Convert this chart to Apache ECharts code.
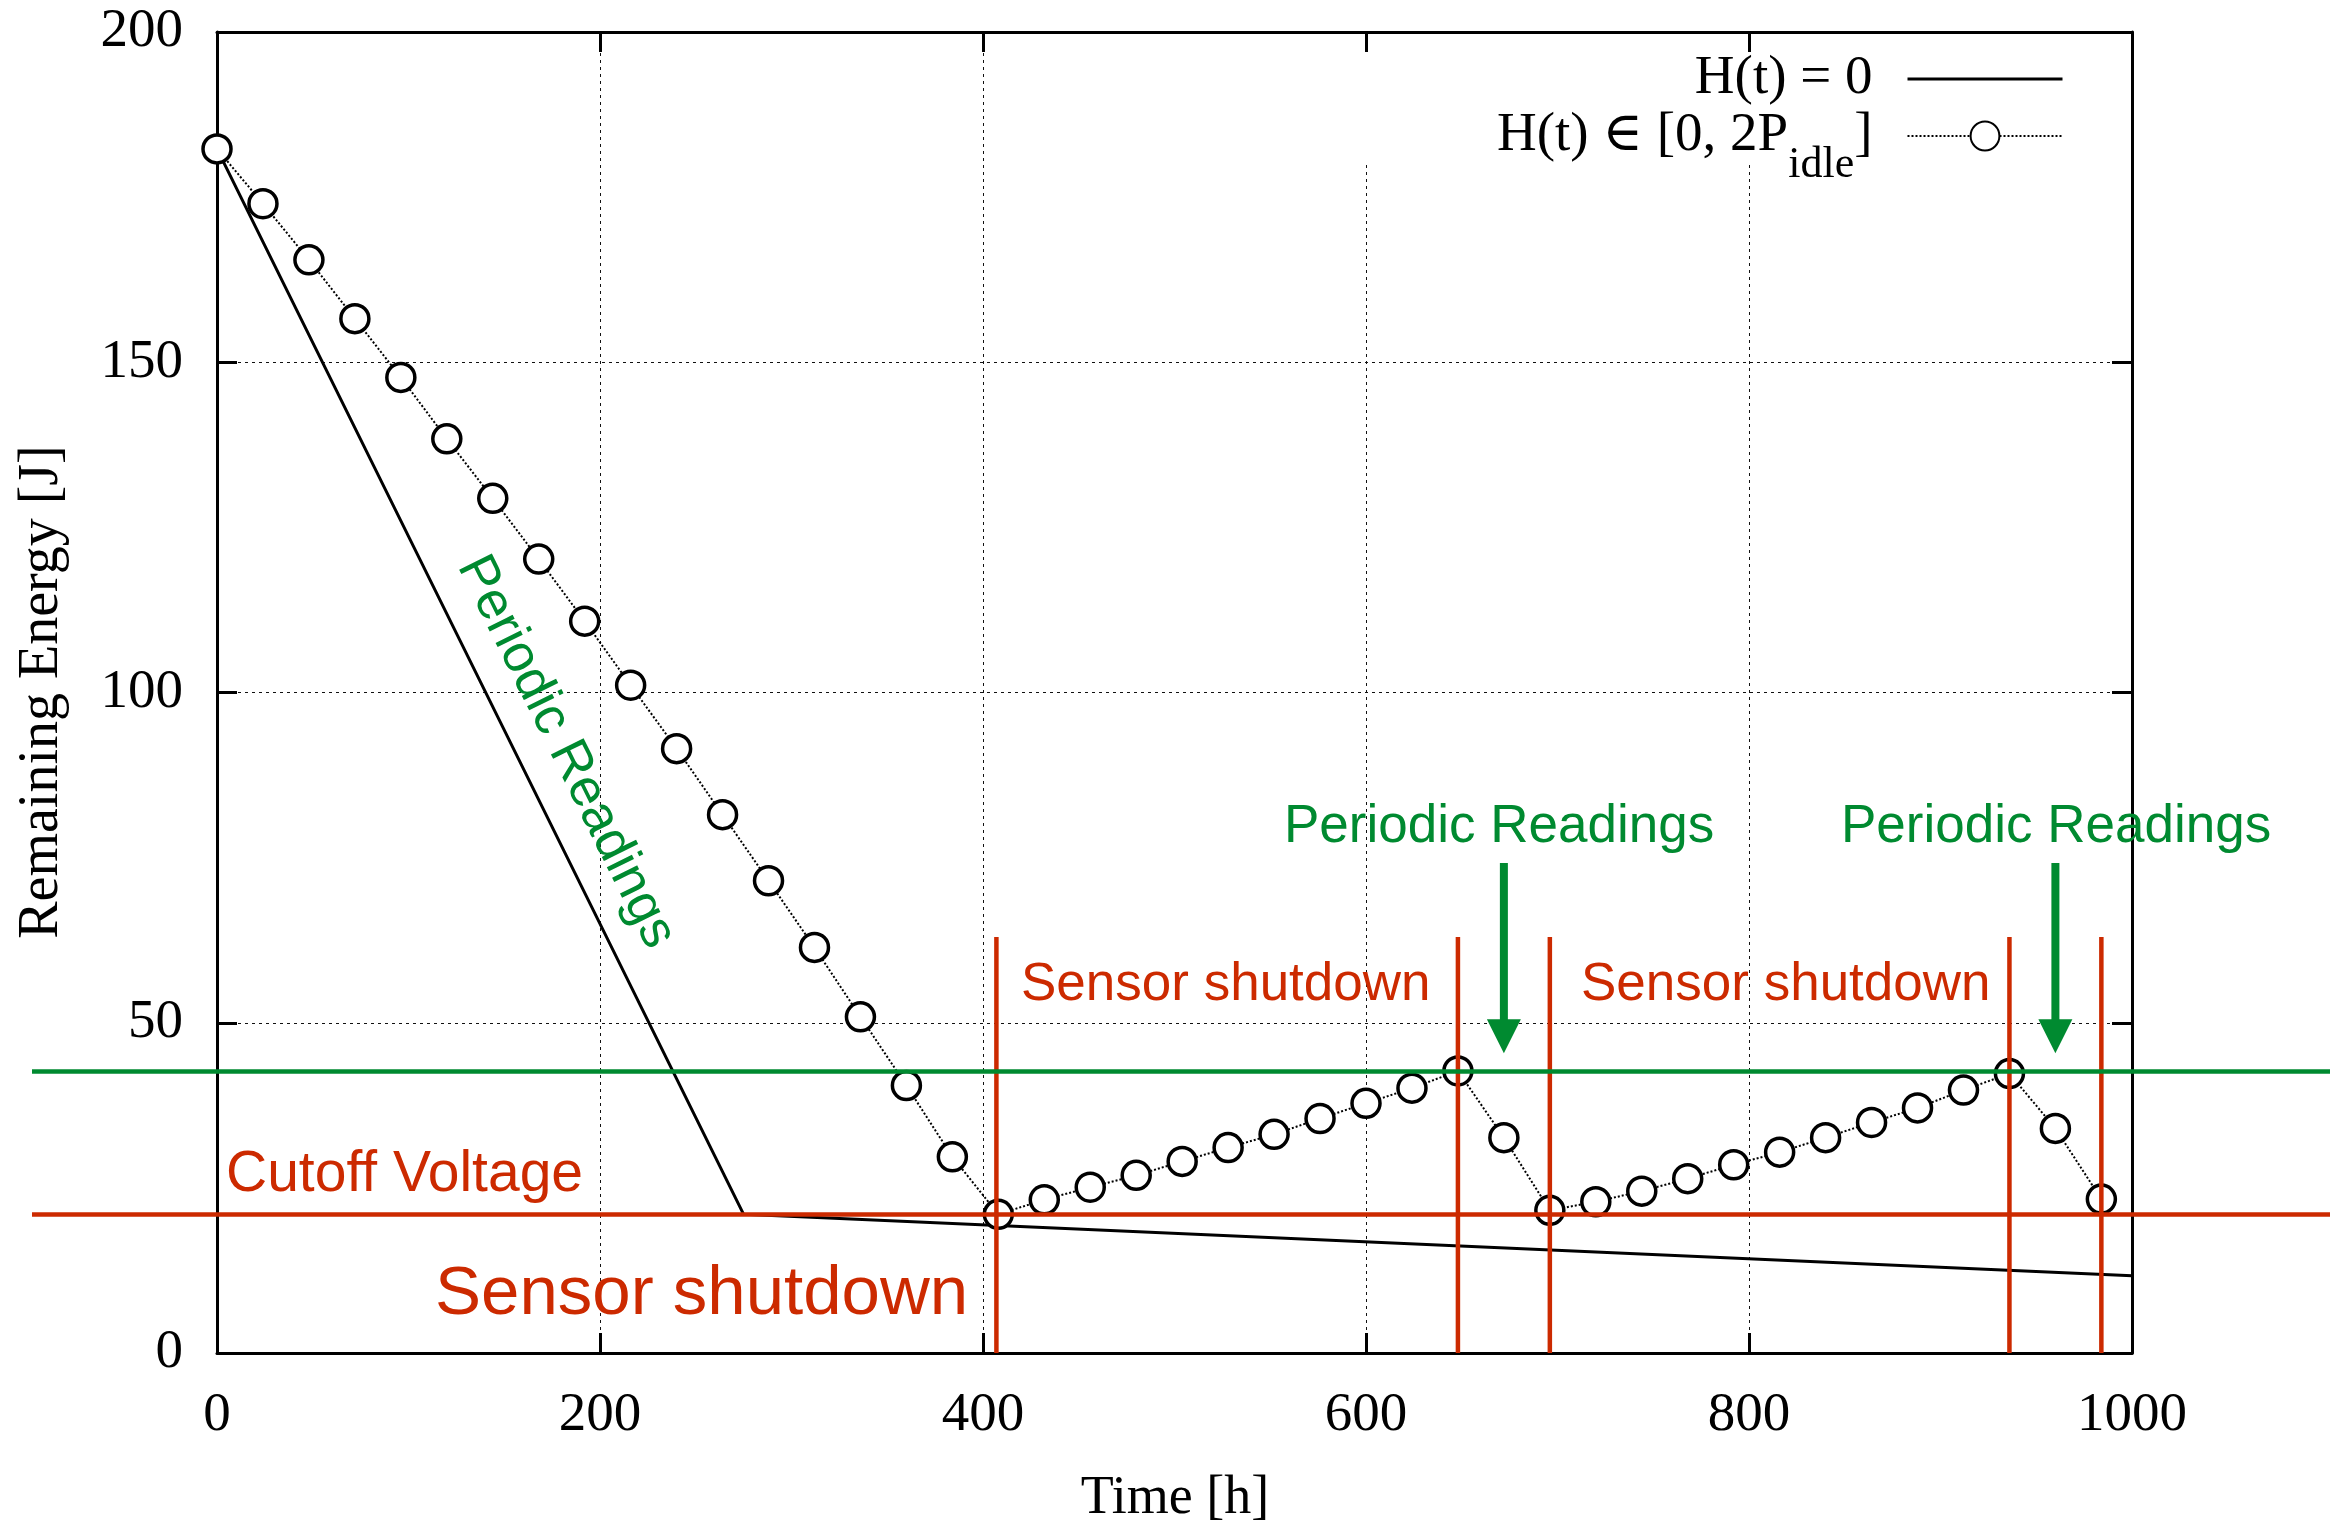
<!DOCTYPE html>
<html>
<head>
<meta charset="utf-8">
<script src="https://cdn.jsdelivr.net/npm/echarts@6/dist/echarts.min.js"></script>
<style>
html,body{margin:0;padding:0;background:#fff;}
#chart{width:2330px;height:1521px;}
</style>
</head>
<body>
<div id="chart"></div>
<script>
// ---------------- data ----------------
const seriesNoHarvest = 'H(t) = 0';
const seriesHarvest = 'H(t) ∈ [0, 2Pidle]';

const hoursNoHarvest = [0, 275, 1000];
const energyNoHarvest = [182.3, 21.0, 11.7];

const hoursHarvest = [0,24,48,72,96,120,144,168,192,216,240,264,288,312,336,360,384,408,432,456,480,504,528,552,576,600,624,648,672,696,720,744,768,792,816,840,864,888,912,936,960,984];
const energyHarvest = [182.3,174.0,165.5,156.6,147.7,138.4,129.4,120.2,110.8,101.1,91.5,81.5,71.5,61.4,50.9,40.5,29.7,21.0,23.2,25.1,26.9,29.0,31.1,33.1,35.5,37.8,40.1,42.7,32.6,21.6,22.9,24.5,26.4,28.5,30.4,32.6,34.9,37.1,39.8,42.3,34.0,23.3];

const cutoffEnergy = 21.0;
const readingThreshold = 42.7;

const shutdownHours = [407, 648, 696, 936, 984];
const shutdownMarkerTop = 63;

const arrowHours = [672, 960];
const arrowTop = 74.2;
const arrowTip = 45.4;

const xTicks = [0, 200, 400, 600, 800, 1000];
const yTicks = [0, 50, 100, 150, 200];

// ---------------- styles ----------------
const RED = '#cc2a00';
const GREEN = '#008a30';
const SERIF = '"Liberation Serif", "DejaVu Serif", serif';
const SANS = '"Liberation Sans", Arial, sans-serif';

const chart = echarts.init(document.getElementById('chart'), null, {renderer: 'canvas'});

const noHarvestData = hoursNoHarvest.map((h, i) => [h, energyNoHarvest[i]]);
const harvestData = hoursHarvest.map((h, i) => [h, energyHarvest[i]]);
const shutdownData = shutdownHours.map(h => [h, 0, shutdownMarkerTop]);
const arrowData = arrowHours.map(h => [h, arrowTop, arrowTip]);

const axisLineStyle = {color: '#000', width: 3};
const tickStyle = {color: '#000', width: 3};
const gridLineStyle = {color: '#111', width: 1, type: [3, 4]};

const option = {
  animation: false,
  backgroundColor: '#fff',
  grid: [
    {left: 217, right: 198, top: 32, bottom: 168, containLabel: false},
    {left: 32, right: 0, top: 32, bottom: 168, containLabel: false}
  ],
  xAxis: [
    {
      gridIndex: 0, type: 'value', min: xTicks[0], max: xTicks[xTicks.length - 1], interval: 200,
      axisLine: {onZero: false, lineStyle: axisLineStyle},
      axisTick: {inside: true, length: 20, lineStyle: tickStyle},
      axisLabel: {fontFamily: SERIF, fontSize: 55, color: '#000', margin: 35, formatter: v => String(v)},
      splitLine: {show: true, lineStyle: gridLineStyle},
      z: 0
    },
    {
      gridIndex: 0, type: 'value', position: 'top', min: xTicks[0], max: xTicks[xTicks.length - 1], interval: 200,
      axisLine: {onZero: false, lineStyle: axisLineStyle},
      axisTick: {inside: true, length: 20, lineStyle: tickStyle},
      axisLabel: {show: false}, splitLine: {show: false}, z: 3
    },
    {gridIndex: 1, type: 'value', min: 0, max: 1, show: false}
  ],
  yAxis: [
    {
      gridIndex: 0, type: 'value', min: yTicks[0], max: yTicks[yTicks.length - 1], interval: 50,
      axisLine: {onZero: false, lineStyle: axisLineStyle},
      axisTick: {inside: true, length: 20, lineStyle: tickStyle},
      axisLabel: {fontFamily: SERIF, fontSize: 55, color: '#000', margin: 34, formatter: v => String(v)},
      splitLine: {show: true, lineStyle: gridLineStyle},
      z: 0
    },
    {
      gridIndex: 0, type: 'value', position: 'right', min: yTicks[0], max: yTicks[yTicks.length - 1], interval: 50,
      axisLine: {onZero: false, lineStyle: axisLineStyle},
      axisTick: {inside: true, length: 20, lineStyle: tickStyle},
      axisLabel: {show: false}, splitLine: {show: false}, z: 3
    },
    {gridIndex: 1, type: 'value', min: yTicks[0], max: yTicks[yTicks.length - 1], show: false}
  ],
  legend: {
    orient: 'vertical', right: 266, top: 51.5, align: 'right',
    itemWidth: 155, itemHeight: 36, itemGap: 2, padding: 0,
    selectedMode: false, z: 6,
    data: [
      {name: seriesNoHarvest, itemStyle: {opacity: 0}, lineStyle: {width: 3, color: '#000'}},
      {name: seriesHarvest, lineStyle: {width: 2, color: '#000', type: [2, 2]}}
    ],
    formatter: function (name) {
      if (name === seriesHarvest) return '{m|H(t) ∈ [0, 2P}{s|idle}{m|]}';
      return name;
    },
    textStyle: {
      fontFamily: SERIF, fontSize: 55, color: '#000', padding: [0, 30, 0, 0],
      rich: {
        m: {fontFamily: SERIF, fontSize: 55, color: '#000', lineHeight: 55, verticalAlign: 'top'},
        s: {fontFamily: SERIF, fontSize: 44, color: '#000', lineHeight: 44, verticalAlign: 'top', padding: [35, 0, 0, 0]}
      }
    }
  },
  graphic: [
    {type: 'rect', z: 1, shape: {x: 1345, y: 36, width: 783, height: 127}, style: {fill: '#fff'}, silent: true},
    {type: 'text', z: 10, x: 42, y: 692, rotation: Math.PI / 2,
      style: {text: 'Remaining Energy [J]', fontFamily: SERIF, fontSize: 56, fill: '#000', align: 'center', verticalAlign: 'middle'}},
    {type: 'text', z: 10, x: 1175, y: 1499,
      style: {text: 'Time [h]', fontFamily: SERIF, fontSize: 54, fill: '#000', align: 'center', verticalAlign: 'middle'}},
    {type: 'text', z: 10, x: 226, y: 1175,
      style: {text: 'Cutoff Voltage', fontFamily: SANS, fontSize: 57, fill: RED, align: 'left', verticalAlign: 'middle'}},
    {type: 'text', z: 10, x: 435, y: 1295,
      style: {text: 'Sensor shutdown', fontFamily: SANS, fontSize: 69, fill: RED, align: 'left', verticalAlign: 'middle'}},
    {type: 'text', z: 10, x: 1021, y: 985,
      style: {text: 'Sensor shutdown', fontFamily: SANS, fontSize: 53, fill: RED, align: 'left', verticalAlign: 'middle'}},
    {type: 'text', z: 10, x: 1581, y: 985,
      style: {text: 'Sensor shutdown', fontFamily: SANS, fontSize: 53, fill: RED, align: 'left', verticalAlign: 'middle'}},
    {type: 'text', z: 10, x: 1284, y: 827,
      style: {text: 'Periodic Readings', fontFamily: SANS, fontSize: 53, fill: GREEN, align: 'left', verticalAlign: 'middle'}},
    {type: 'text', z: 10, x: 1841, y: 827,
      style: {text: 'Periodic Readings', fontFamily: SANS, fontSize: 53, fill: GREEN, align: 'left', verticalAlign: 'middle'}},
    {type: 'text', z: 10, x: 566, y: 752, rotation: -63.6 * Math.PI / 180,
      style: {text: 'Periodic Readings', fontFamily: SANS, fontSize: 53, fill: GREEN, align: 'center', verticalAlign: 'middle'}}
  ],
  series: [
    {
      name: seriesNoHarvest, type: 'line', xAxisIndex: 0, yAxisIndex: 0,
      data: noHarvestData, showSymbol: false, symbol: 'none',
      lineStyle: {color: '#000', width: 3}, itemStyle: {color: '#000', opacity: 0}, z: 2
    },
    {
      name: seriesHarvest, type: 'line', xAxisIndex: 0, yAxisIndex: 0,
      data: harvestData, symbol: 'circle', symbolSize: 28, showAllSymbol: true,
      lineStyle: {color: '#000', width: 2, type: [2, 2]},
      itemStyle: {color: '#fff', borderColor: '#000', borderWidth: 3.5}, z: 3
    },
    {
      name: 'shutdown', type: 'custom', xAxisIndex: 0, yAxisIndex: 0, z: 5, silent: true,
      data: shutdownData,
      renderItem: function (params, api) {
        const p0 = api.coord([api.value(0), api.value(1)]);
        const p1 = api.coord([api.value(0), api.value(2)]);
        return {type: 'line', shape: {x1: p0[0], y1: p0[1], x2: p1[0], y2: p1[1]},
          style: {stroke: RED, lineWidth: 4.5}};
      }
    },
    {
      name: 'arrows', type: 'custom', xAxisIndex: 0, yAxisIndex: 0, z: 5, silent: true,
      data: arrowData,
      renderItem: function (params, api) {
        const pTop = api.coord([api.value(0), api.value(1)]);
        const pTip = api.coord([api.value(0), api.value(2)]);
        const headLen = 34, headHalf = 17;
        return {type: 'group', children: [
          {type: 'line', shape: {x1: pTop[0], y1: pTop[1], x2: pTip[0], y2: pTip[1] - headLen + 2},
            style: {stroke: GREEN, lineWidth: 8}},
          {type: 'polygon', shape: {points: [[pTip[0] - headHalf, pTip[1] - headLen], [pTip[0] + headHalf, pTip[1] - headLen], [pTip[0], pTip[1]]]},
            style: {fill: GREEN}}
        ]};
      }
    },
    {
      name: 'levels', type: 'line', xAxisIndex: 2, yAxisIndex: 2, data: [], z: 6, silent: true,
      markLine: {
        silent: true, symbol: ['none', 'none'], label: {show: false}, animation: false, z: 6,
        data: [
          {yAxis: cutoffEnergy, lineStyle: {color: RED, width: 4.7, type: 'solid'}},
          {yAxis: readingThreshold, lineStyle: {color: GREEN, width: 4.7, type: 'solid'}}
        ]
      }
    }
  ]
};
chart.setOption(option);
</script>
</body>
</html>
